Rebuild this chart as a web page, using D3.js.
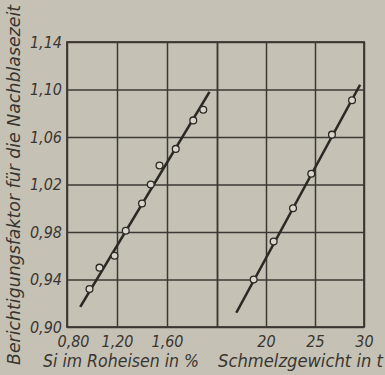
<!DOCTYPE html>
<html>
<head>
<meta charset="utf-8">
<script src="https://cdn.jsdelivr.net/npm/d3@7"></script>
<style>
  html, body { margin: 0; padding: 0; background: #c5c2b5; }
  text { font-family: "DejaVu Sans Condensed", "DejaVu Sans", sans-serif; font-style: italic; fill: #3a3531; }
</style>
</head>
<body>
<svg id="vis"></svg>
<script>
// values
const factorTicks = [0.90, 0.94, 0.98, 1.02, 1.06, 1.10, 1.14];
const siTicks = [0.80, 1.20, 1.60, 2.00];
const siTickLabels = ["0,80", "1,20", "1,60", ""];
const massTicks = [15, 20, 25, 30];
const massTickLabels = ["", "20", "25", "30"];

// left panel: silicon content vs factor
const siValues  = [0.98, 1.06, 1.18, 1.27, 1.40, 1.47, 1.54, 1.67, 1.81, 1.89];
const siFactors = [0.932, 0.950, 0.960, 0.981, 1.004, 1.020, 1.036, 1.050, 1.074, 1.083];
const siLineX = [0.906, 1.94];
const siLineY = [0.917, 1.098];

// right panel: melt weight vs factor
const massValues  = [18.74, 20.78, 22.76, 24.62, 26.73, 28.78];
const massFactors = [0.940, 0.972, 1.000, 1.029, 1.062, 1.091];
const massLineX = [16.97, 29.6];
const massLineY = [0.912, 1.104];

const yTitle = "Berichtigungsfaktor für die Nachblasezeit";
const siTitle = "Si im Roheisen in %";
const massTitle = "Schmelzgewicht in t";

function main()
{
    const width = 385;
    const height = 375;
    // frame
    const frame = {left: 67, right: 364, top: 42, bottom: 327, split: 217};
    const ink = "#3d3834";

    let svg = d3.select('#vis')
        .attr('width', width)
        .attr('height', height);

    let yScale = d3.scaleLinear()
        .domain([0.90, 1.14])
        .range([frame.bottom, frame.top]);

    let xSi = d3.scaleLinear()
        .domain([0.80, 2.00])
        .range([frame.left, frame.split]);

    let xMass = d3.scaleLinear()
        .domain([15, 30])
        .range([frame.split, frame.right]);

    // horizontal grid + y labels
    let yAxis = svg.append("g")
        .attr("transform", "translate(" + frame.left + ",0)")
        .call(d3.axisLeft(yScale)
            .tickValues(factorTicks)
            .tickSize(-(frame.right - frame.left))
            .tickPadding(5)
            .tickFormat(d => d3.format(".2f")(d).replace(".", ",")));

    // vertical grid, left part
    let siAxis = svg.append("g")
        .attr("transform", "translate(0," + frame.bottom + ")")
        .call(d3.axisBottom(xSi)
            .tickValues(siTicks)
            .tickSize(-(frame.bottom - frame.top))
            .tickPadding(6)
            .tickFormat((d, i) => siTickLabels[i]));

    let massAxis = svg.append("g")
        .attr("transform", "translate(0," + frame.bottom + ")")
        .call(d3.axisBottom(xMass)
            .tickValues(massTicks)
            .tickSize(-(frame.bottom - frame.top))
            .tickPadding(6)
            .tickFormat((d, i) => massTickLabels[i]));

    [yAxis, siAxis, massAxis].forEach(g => {
        g.select(".domain").remove();
        g.selectAll("line").attr("stroke", ink).attr("stroke-width", 1.5);
        g.selectAll("text")
            .attr("font-size", 16)
            .attr("fill", "#3a3531")
            .style("font-family", "'DejaVu Sans Condensed', sans-serif");
    });
    // first x label sits a bit right of its gridline in the scan
    siAxis.selectAll("text").filter((d, i) => i === 0).attr("dx", 6);
    siAxis.selectAll("text").attr("dy", "0.9em");
    massAxis.selectAll("text").attr("dy", "0.9em");

    // outer frame
    svg.append("rect")
        .attr("x", frame.left)
        .attr("y", frame.top)
        .attr("width", frame.right - frame.left)
        .attr("height", frame.bottom - frame.top)
        .attr("fill", "none")
        .attr("stroke", ink)
        .attr("stroke-width", 1.8);

    // fitted lines
    svg.append("line")
        .attr("x1", xSi(siLineX[0])).attr("y1", yScale(siLineY[0]))
        .attr("x2", xSi(siLineX[1])).attr("y2", yScale(siLineY[1]))
        .attr("stroke", "#2c2825").attr("stroke-width", 2.6);

    svg.append("line")
        .attr("x1", xMass(massLineX[0])).attr("y1", yScale(massLineY[0]))
        .attr("x2", xMass(massLineX[1])).attr("y2", yScale(massLineY[1]))
        .attr("stroke", "#2c2825").attr("stroke-width", 2.6);

    // measured points
    svg.append('g')
        .selectAll("circle")
        .data(siValues)
        .enter()
        .append("circle")
        .attr("cx", d => xSi(d))
        .attr("cy", (d, i) => yScale(siFactors[i]))
        .attr("r", 3.4)
        .attr("fill", "#d9d6cb")
        .attr("stroke", "#2c2825")
        .attr("stroke-width", 1.3);

    svg.append('g')
        .selectAll("circle")
        .data(massValues)
        .enter()
        .append("circle")
        .attr("cx", d => xMass(d))
        .attr("cy", (d, i) => yScale(massFactors[i]))
        .attr("r", 3.4)
        .attr("fill", "#d9d6cb")
        .attr("stroke", "#2c2825")
        .attr("stroke-width", 1.3);

    // axis titles
    svg.append("text")
        .attr("transform", "translate(20,365) rotate(-90)")
        .attr("x", 0)
        .attr("y", 0)
        .attr("font-size", 17)
        .attr("textLength", 360)
        .attr("lengthAdjust", "spacingAndGlyphs")
        .text(yTitle);

    svg.append("text")
        .attr("x", 43)
        .attr("y", 367)
        .attr("font-size", 17)
        .attr("textLength", 156)
        .attr("lengthAdjust", "spacingAndGlyphs")
        .text(siTitle);

    svg.append("text")
        .attr("x", 218)
        .attr("y", 367)
        .attr("font-size", 17)
        .attr("textLength", 165)
        .attr("lengthAdjust", "spacingAndGlyphs")
        .text(massTitle);
}

main();
</script>
</body>
</html>
